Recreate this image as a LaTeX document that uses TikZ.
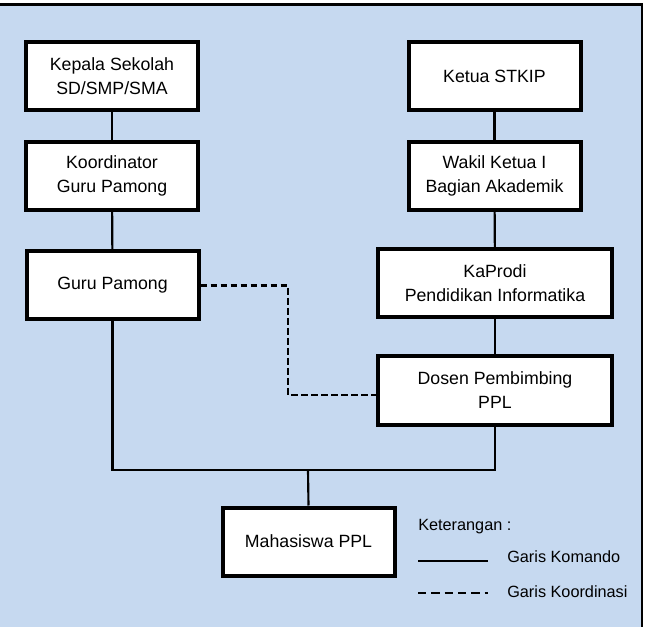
\documentclass[tikz,border=0pt]{standalone}
\usepackage{fontspec}
\setmainfont{Liberation Sans}
\usepackage{tikz}
\usetikzlibrary{positioning}
\definecolor{latarbiru}{RGB}{198,217,240}

\begin{document}
\begin{tikzpicture}[x=0.75pt,y=-0.75pt]
	
	\tikzset{kotak/.style={
			draw=black,
			fill=white,
			line width=3pt,
			minimum width=#1,
			minimum height=51pt,
			align=center,
			inner sep=0pt,
			font=\fontsize{13.3}{18}\selectfont
		},
		kotak/.default=129pt,
		komando/.style={line width=1.6pt},
		koordinasi/.style={line width=1.6pt, dash pattern=on 5pt off 2.5pt},
		ket/.style={anchor=west, inner sep=0pt, font=\fontsize{12.2}{14}\selectfont}
	}
	
	\useasboundingbox (0,0) rectangle (650,627);
	\fill[latarbiru] (0,4.5) rectangle (642,627);
	\draw[line width=1.8pt] (0,4.5) -- (642,4.5) -- (642,627);
	
	\node[kotak] (kepsek) at (112,76) {Kepala Sekolah\\SD/SMP/SMA};
	\node[kotak] (koord) at (112,176) {Koordinator\\Guru Pamong};
	\node[kotak] (gurupamong) at (112.5,285.5) {Guru Pamong};
	
	\node[kotak] (ketua) at (494.5,76) {Ketua STKIP};
	\node[kotak] (wakil) at (494.5,176) {Wakil Ketua I\\Bagian Akademik};
	\node[kotak=175.5pt] (kaprodi) at (495,283.5) {KaProdi\\Pendidikan Informatika};
	\node[kotak=175.5pt] (dosen) at (495,390.5) {Dosen Pembimbing\\PPL};
	
	\node[kotak] (mhs) at (308.5,541.5) {Mahasiswa PPL};
	
	\coordinate (gabung) at (308,470);
	\coordinate (belok) at (288,395);
	
	\draw[komando] (kepsek) -- (koord);
	\draw[komando] (koord) -- (gurupamong);
	\draw[komando] (ketua) -- (wakil);
	\draw[komando] (wakil) -- (kaprodi);
	\draw[komando] (kaprodi) -- (dosen);
	\draw[komando] (gurupamong.south) |- (gabung) -| (dosen.south);
	\draw[komando] (gabung) -- (mhs.north);
	\draw[koordinasi] (gurupamong.east) -| (belok) -- (dosen.west |- belok);
	
	\node[ket] (keterangan) at (418,527) {Keterangan :};
	\coordinate (kom1) at (418,561);
	\coordinate (kom2) at (488,561);
	\coordinate (kor1) at (418,593);
	\coordinate (kor2) at (488,593);
	\draw[komando] (kom1) -- (kom2);
	\draw[line width=1.6pt, dash pattern=on 6.2pt off 3.8pt] (kor1) -- (kor2);
	\node[ket] (garis komando) at (507,557) {Garis Komando};
	\node[ket] (garis koordinasi) at (507,592) {Garis Koordinasi};
	
\end{tikzpicture}
\end{document}
